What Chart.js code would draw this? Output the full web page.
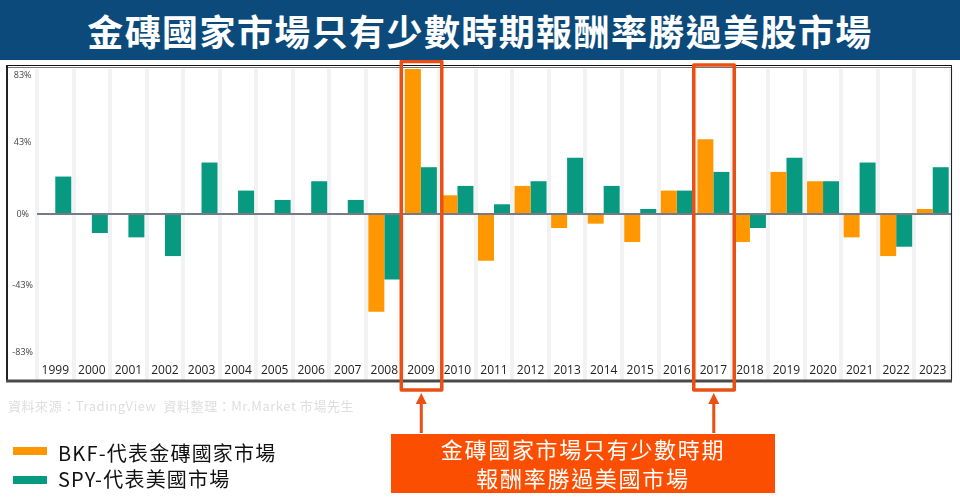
<!DOCTYPE html>
<html>
<head>
<meta charset="utf-8">
<script src="https://cdn.jsdelivr.net/npm/chart.js@4"></script>
<style>
  html, body { margin: 0; padding: 0; background: #fff; }
  body { width: 960px; height: 502px; position: relative; overflow: hidden; font-family: "Noto Sans CJK TC", sans-serif; }
  #wrap { position: absolute; left: 0; top: 0; width: 960px; height: 502px; }
  .title { position: absolute; left: 0; top: 0; width: 960px; height: 60px; line-height: 60px; background: #0b4a7a; color: #fff; text-align: center; font-size: 36px; font-weight: 700; letter-spacing: 1.4px; }
  .source { position: absolute; left: 8px; top: 397px; font-size: 13px; line-height: 18px; color: #dedede; letter-spacing: .55px; white-space: pre; }
  .legend-row { position: absolute; left: 13px; height: 26px; line-height: 26px; font-size: 20px; color: #111; white-space: nowrap; letter-spacing: 1.2px; }
  .legend-row i { position: absolute; left: 0; width: 34px; height: 8px; }
  .legend-row span { margin-left: 45px; }
  .callout { position: absolute; left: 391px; top: 434px; width: 384px; height: 59px; background: #fb4e00; color: #fff; text-align: center; font-size: 22px; line-height: 29px; letter-spacing: 1.7px; }
</style>
</head>
<body>
<div id="wrap"><canvas id="chart"></canvas></div>
<div class="title">金磚國家市場只有少數時期報酬率勝過美股市場</div>
<div class="source">資料來源：TradingView  資料整理：Mr.Market 市場先生</div>
<div class="legend-row" style="top:440px"><i style="background:#ff9800;top:7px"></i><span>BKF-代表金磚國家市場</span></div>
<div class="legend-row" style="top:466px"><i style="background:#089981;top:10px"></i><span>SPY-代表美國市場</span></div>
<div class="callout">金磚國家市場只有少數時期<br>報酬率勝過美國市場</div>
<script>
const years = ['1999','2000','2001','2002','2003','2004','2005','2006','2007','2008','2009','2010','2011','2012','2013','2014','2015','2016','2017','2018','2019','2020','2021','2022','2023'];
const bkf = [null,null,null,null,null,null,null,null,null,-58.6,86.8,11.2,-28,16.8,-8.4,-5.8,-16.8,14,44.8,-16.8,25.2,19.6,-14,-25.2,3];
const spy = [22.4,-11.4,-14,-25.2,30.8,14,8.4,19.6,8.4,-39.2,28,16.8,5.8,19.6,33.6,16.8,3,14,25.2,-8.4,33.6,19.6,30.8,-19.6,28];
const yTicks = [83,43,0,-43,-83];
const highlightYears = ['2009','2017'];
const highlightTops = [61.5, 65];

// frame, red highlight boxes and their arrows
const overlay = {
  id: 'overlay',
  afterDraw: function (chart) {
    const c = chart.ctx;
    c.save();
    c.strokeStyle = '#111';
    c.lineWidth = 1;
    c.beginPath(); c.moveTo(7, 65.5); c.lineTo(951.5, 65.5); c.stroke();
    c.strokeStyle = '#777';
    c.beginPath(); c.moveTo(7, 67.5); c.lineTo(951.5, 67.5); c.stroke();
    c.strokeStyle = '#222';
    c.lineWidth = 2;
    c.beginPath(); c.moveTo(7, 381); c.lineTo(7, 65); c.stroke();
    c.lineWidth = 1;
    c.beginPath(); c.moveTo(951.5, 65); c.lineTo(951.5, 381); c.stroke();
    c.strokeStyle = '#4a4a4a';
    c.lineWidth = 3;
    c.beginPath(); c.moveTo(6, 381); c.lineTo(952, 381); c.stroke();

    highlightYears.forEach(function (y, i) {
      const x = chart.scales.x.getPixelForValue(y) + 0.4;
      const top = highlightTops[i];
      c.strokeStyle = '#ea4f14';
      c.fillStyle = '#ea4f14';
      c.lineWidth = 3.5;
      c.lineJoin = 'round';
      c.strokeRect(x - 20, top, 40.5, 390 - top);
      c.fillRect(x - 1.5, 401, 3, 32);
      c.beginPath(); c.moveTo(x, 393); c.lineTo(x + 5.5, 404); c.lineTo(x - 5.5, 404); c.closePath(); c.fill();
    });
    c.restore();
  }
};

new Chart(document.getElementById('chart'), {
  type: 'bar',
  data: {
    labels: years,
    datasets: [
      { label: 'BKF', data: bkf, backgroundColor: '#ff9800' },
      { label: 'SPY', data: spy, backgroundColor: '#089981' }
    ]
  },
  options: {
    responsive: true,
    maintainAspectRatio: false,
    animation: false,
    devicePixelRatio: 1,
    layout: { padding: { left: 8, right: 9, top: 69, bottom: 122 } },
    categoryPercentage: 0.875,
    barPercentage: 1,
    plugins: { legend: { display: false }, tooltip: { enabled: false }, title: { display: false } },
    scales: {
      x: {
        position: { y: -89.5 },
        grid: { color: '#f1f2f4', lineWidth: 4, drawTicks: false, offset: true },
        border: { display: false },
        ticks: { color: '#222', font: { family: 'Open Sans', size: 12 }, padding: 0, maxRotation: 0, autoSkip: false }
      },
      y: {
        min: -99.4,
        max: 86.8,
        afterFit: function (axis) { axis.width = 29; },
        afterBuildTicks: function (axis) { axis.ticks = yTicks.map(function (v) { return { value: v }; }); },
        grid: {
          drawTicks: false,
          lineWidth: 2,
          color: function (ctx) { return ctx.tick && ctx.tick.value === 0 ? '#787b86' : 'transparent'; }
        },
        border: { display: false },
        ticks: {
          color: '#444',
          font: { family: 'Open Sans', size: 9 },
          padding: 4,
          crossAlign: 'center',
          callback: function (v) { return v + '%'; }
        }
      }
    }
  },
  plugins: [overlay]
});
</script>
</body>
</html>
